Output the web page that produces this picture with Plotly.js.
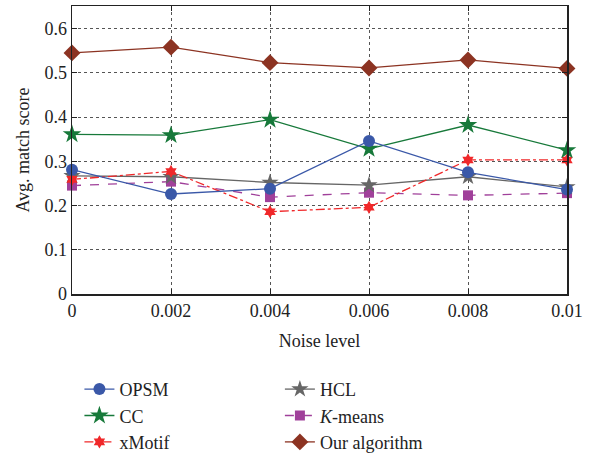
<!DOCTYPE html>
<html><head><meta charset="utf-8">
<script src="https://cdn.plot.ly/plotly-3.0.1.min.js"></script>
<style>body{margin:0;background:#fff}#c{width:608px;height:454px}</style>
</head><body><div id="c"></div>
<script>
const noise = [0, 0.002, 0.004, 0.006, 0.008, 0.01];
const xTickLabels = ['0', '0.002', '0.004', '0.006', '0.008', '0.01'];
const yTickVals = [0, 0.1, 0.2, 0.3, 0.4, 0.5, 0.6];
const yTickLabels = ['0', '0.1', '0.2', '0.3', '0.4', '0.5', '0.6'];
const opsm = [0.281, 0.226, 0.238, 0.346, 0.275, 0.236];
const cc = [0.361, 0.359, 0.394, 0.328, 0.382, 0.325];
const xmotif = [0.259, 0.277, 0.186, 0.196, 0.303, 0.303];
const hcl = [0.267, 0.265, 0.252, 0.246, 0.265, 0.242];
const kmeans = [0.245, 0.254, 0.219, 0.229, 0.223, 0.228];
const ours = [0.545, 0.558, 0.523, 0.511, 0.529, 0.510];

const FONT = "'Liberation Serif', 'DejaVu Serif', serif";
function tr(name, y, color, symbol, size, dash, legend) {
  return {x: noise, y: y, name: name, type: 'scatter', mode: 'lines+markers',
    cliponaxis: false,
    line: {color: color, width: 1.3, dash: dash},
    marker: {color: color, symbol: symbol, size: size, line: {width: 0}},
    legend: legend};
}
const data = [
  tr('Our algorithm', ours, '#8c3322', 'diamond', 13, 'solid', 'legend2'),
  tr('<i>K</i>-means', kmeans, '#a0409a', 'square', 10, 'dash', 'legend2'),
  tr('HCL', hcl, '#666666', 'star', 13, 'solid', 'legend2'),
  tr('xMotif', xmotif, '#f0282a', 'hexagram', 10, 'dashdot', 'legend'),
  tr('CC', cc, '#17793a', 'star', 14, 'solid', 'legend'),
  tr('OPSM', opsm, '#3a58a8', 'circle', 12, 'solid', 'legend')
];
const axisCommon = {
  showline: true, mirror: 'ticks', linecolor: '#222', linewidth: 1.5,
  ticks: 'inside', ticklen: 5, tickcolor: '#222',
  showgrid: true, gridcolor: '#555', griddash: 'dot', gridwidth: 1,
  zeroline: false, tickfont: {family: FONT, size: 18, color: '#222'}
};
const legendCommon = {
  y: -0.267, xanchor: 'left', yanchor: 'top',
  traceorder: 'reversed', font: {family: FONT, size: 18, color: '#222'},
  bgcolor: 'rgba(0,0,0,0)', tracegroupgap: 0
};
const layout = {
  width: 608, height: 454,
  margin: {l: 72, r: 41, t: 6, b: 160, autoexpand: false},
  paper_bgcolor: '#fff', plot_bgcolor: '#fff',
  font: {family: FONT, color: '#222'},
  xaxis: Object.assign({}, axisCommon, {
    range: [0, 0.01], tickvals: noise, ticktext: xTickLabels,
    title: {text: 'Noise level', font: {family: FONT, size: 18, color: '#222'}, standoff: 14}
  }),
  yaxis: Object.assign({}, axisCommon, {
    range: [0, 0.651], tickvals: yTickVals, ticktext: yTickLabels,
    title: {text: 'Avg. match score', font: {family: FONT, size: 18, color: '#222'}, standoff: 10}
  }),
  legend: Object.assign({}, legendCommon, {x: 0.015}),
  legend2: Object.assign({}, legendCommon, {x: 0.42}),
  showlegend: true
};
Plotly.newPlot('c', data, layout, {displayModeBar: false, staticPlot: true});
</script>
</body></html>
